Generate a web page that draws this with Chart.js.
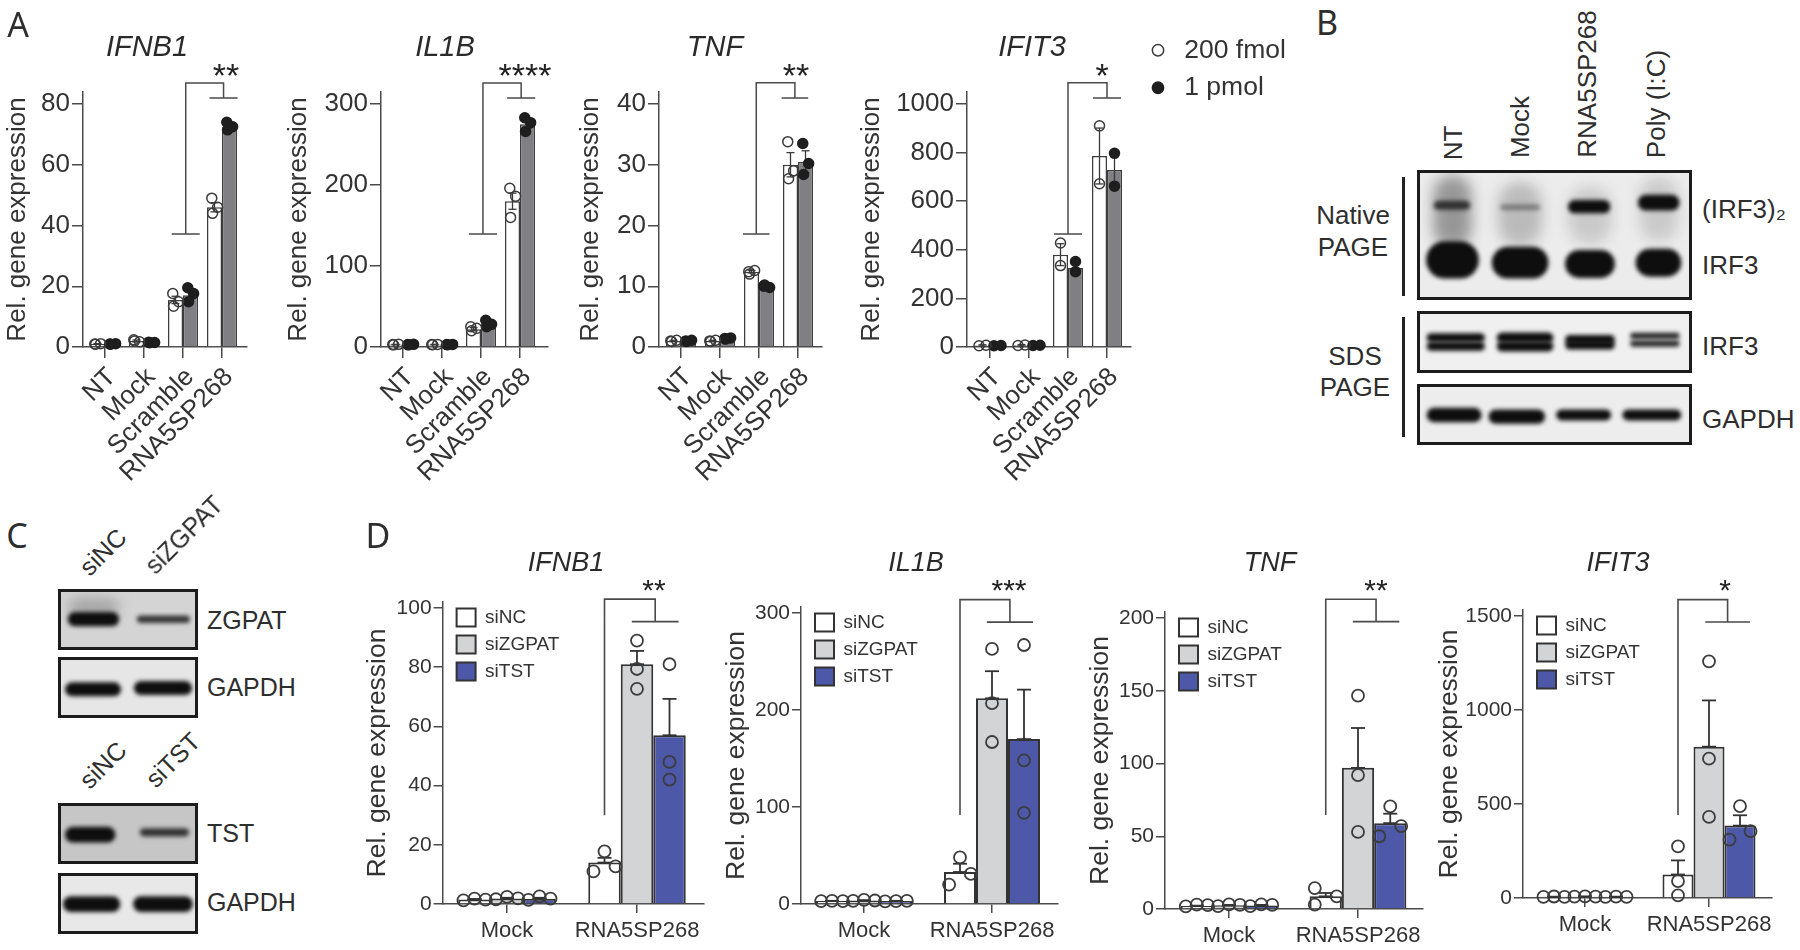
<!DOCTYPE html>
<html>
<head>
<meta charset="utf-8">
<title>Figure</title>
<script src="https://cdn.jsdelivr.net/npm/chart.js@4/dist/chart.umd.min.js"></script>
<style>
  html, body { margin: 0; background: #fff; }
  #page { position: relative; width: 1800px; height: 950px; overflow: hidden; font-family: "Liberation Sans", Arial, sans-serif; color: #2e2e2e; }
  canvas { position: absolute; }
  .lbl { position: absolute; white-space: nowrap; line-height: 1; }
  .rule { position: absolute; background: #222; }
</style>
</head>
<body>
<div id="page"></div>
<script>
// ---- panel A data
const aGroups = ['NT', 'Mock', 'Scramble', 'RNA5SP268'];
const aSeries = ['200 fmol', '1 pmol'];

const aIfnb1Low = [1, 2, 15.5, 46];
const aIfnb1High = [1, 1.5, 17, 72];
const aIfnb1LowSem = [0.1, 0.3, 1.2, 1.5];
const aIfnb1HighSem = [0.1, 0.1, 1.3, 0.8];
const aIfnb1LowPts = [[1, 1.1, 0.9], [2.4, 1.7, 2], [17.6, 14.9, 13.4], [49, 46, 44]];
const aIfnb1HighPts = [[1, 1.1, 0.9], [1.6, 1.5, 1.4], [19.5, 17.6, 14.9], [74, 72.5, 71.5]];
const aIfnb1Bracket = [37.2, 86.9, 82];

const aIl1bLow = [3, 3, 22, 180];
const aIl1bHigh = [3, 3, 27, 275];
const aIl1bLowSem = [0.3, 0.3, 2, 10];
const aIl1bHighSem = [0.3, 0.3, 2, 5];
const aIl1bLowPts = [[3, 3.3, 2.7], [3, 3.2, 2.8], [25, 23, 20], [196, 186, 160]];
const aIl1bHighPts = [[3, 3.3, 2.7], [3, 3.2, 2.8], [33, 28, 25], [283, 277, 266]];
const aIl1bBracket = [139.5, 326, 307.5];

const aTnfLow = [1, 1, 12.4, 30];
const aTnfHigh = [1, 1.4, 10, 30.5];
const aTnfLowSem = [0.1, 0.1, 0.2, 2];
const aTnfHighSem = [0.1, 0.1, 0.1, 1.8];
const aTnfLowPts = [[1, 1.1, 0.9], [1, 1.1, 0.9], [12.4, 12.6, 12], [33.8, 29, 27.7]];
const aTnfHighPts = [[1, 1.1, 0.9], [1.4, 1.5, 1.3], [10, 9.8, 10.2], [33.5, 30.2, 28.4]];
const aTnfBracket = [18.6, 43.5, 41];

const aIfit3Low = [6, 7, 380, 786];
const aIfit3High = [5, 6, 325, 728];
const aIfit3LowSem = [3, 3, 45, 115];
const aIfit3HighSem = [2, 2, 22, 65];
const aIfit3LowPts = [[5, 7], [6, 8], [428, 335], [910, 672]];
const aIfit3HighPts = [[5, 6], [6, 7], [310, 352], [797, 662]];
const aIfit3Bracket = [465, 1087, 1025];

// ---- panel D data
const dGroups = ['Mock', 'RNA5SP268'];
const dSeries = ['siNC', 'siZGPAT', 'siTST'];

const dIfnb1SiNC = [1.5, 14];
const dIfnb1SiZGPAT = [1.9, 81];
const dIfnb1SiTST = [1.8, 57];
const dIfnb1SiNCSem = [0.2, 1.6];
const dIfnb1SiZGPATSem = [0.2, 4.5];
const dIfnb1SiTSTSem = [0.3, 12.3];
const dIfnb1SiNCPts = [[1.2, 1.8, 1.5], [17.8, 12.7, 11]];
const dIfnb1SiZGPATPts = [[1.6, 2.4, 1.9], [89, 79.4, 72.7]];
const dIfnb1SiTSTPts = [[1.4, 2.6, 1.8], [81, 48, 42]];
const dIfnb1SiNCOff = [0, 1, -1];
const dIfnb1SiTSTOff = [0, 0, 0];
const dIfnb1Bracket = [30, 103, 95.4];

const dIl1bSiNC = [3, 33];
const dIl1bSiZGPAT = [3.5, 212];
const dIl1bSiTST = [3, 170];
const dIl1bSiNCSem = [0.3, 8.5];
const dIl1bSiZGPATSem = [0.4, 28];
const dIl1bSiTSTSem = [0.3, 51];
const dIl1bSiNCPts = [[3, 3.3, 3], [48, 31, 20]];
const dIl1bSiZGPATPts = [[3.3, 4.2, 3.6], [263, 207, 167]];
const dIl1bSiTSTPts = [[2.8, 3, 3.2], [267, 148, 94]];
const dIl1bSiNCOff = [0, 1, -1];
const dIl1bSiTSTOff = [0, 0, 0];
const dIl1bBracket = [91.7, 313.8, 290.6];

const dTnfSiNC = [2, 8.7];
const dTnfSiZGPAT = [2.5, 97];
const dTnfSiTST = [2.4, 59];
const dTnfSiNCSem = [0.3, 2.3];
const dTnfSiZGPATSem = [0.3, 27.4];
const dTnfSiTSTSem = [0.4, 6.5];
const dTnfSiNCPts = [[1.8, 3, 2.6], [14.4, 8.7, 3]];
const dTnfSiZGPATPts = [[2, 3.2, 2.8], [146.6, 92, 53]];
const dTnfSiTSTPts = [[2, 3.2, 2.8], [70.5, 57, 50]];
const dTnfSiNCOff = [-1, 1, -1];
const dTnfSiTSTOff = [0, 1, -1];
const dTnfBracket = [64.6, 212.9, 197.5];

const dIfit3SiNC = [6, 125];
const dIfit3SiZGPAT = [7, 805];
const dIfit3SiTST = [6, 385];
const dIfit3SiNCSem = [1, 75];
const dIfit3SiZGPATSem = [1, 246];
const dIfit3SiTSTSem = [1, 55];
const dIfit3SiNCPts = [[6, 8, 6], [275, 90, 14]];
const dIfit3SiZGPATPts = [[7, 9, 7], [1259, 741, 431]];
const dIfit3SiTSTPts = [[6, 7, 6], [489, 356, 310]];
const dIfit3SiNCOff = [0, 0, 0];
const dIfit3SiTSTOff = [0, 1, -1];
const dIfit3Bracket = [441, 1587, 1468];

// ---- blot bands, [lane centre, height centre, width, height, darkness] in % of the box
const nativeBands = [[12.9, 69.2, 19.2, 25.6, 1], [37.5, 71.3, 20.6, 21.8, 1], [62.9, 72.3, 18.1, 19.2, 1], [87.8, 71.3, 16.6, 19.2, 1],
  [12.7, 27.2, 13.3, 6.2, 0.75], [37.5, 28.7, 14.5, 3.8, 0.4], [62.6, 28.2, 15.4, 9.2, 1], [87.9, 25.1, 15.1, 10.8, 1]];
const nativeSmears = [[12.9, 32, 14, 56, 0.38], [37.5, 34, 16, 50, 0.22], [62.9, 35, 16, 45, 0.15], [87.9, 30, 14, 50, 0.15]];
const sdsIrf3Bands = [[14.1, 43, 21.2, 13, 1], [14.1, 57, 21.2, 13, 1], [39.3, 43, 20.6, 15, 1], [39.3, 57, 20.6, 15, 1],
  [62.9, 46, 18, 13, 1], [62.9, 55, 18, 13, 1], [86.5, 40, 18, 9, 0.9], [86.5, 52.5, 18, 9, 0.9]];
const sdsGapdhBands = [[13.5, 50.8, 20, 21, 1], [36.3, 53.5, 20.5, 21, 1], [60.6, 50.8, 20, 16, 1], [85.4, 50.8, 21.4, 16, 1]];
const zgpatBands = [[25.3, 49.5, 36.7, 21, 1], [75.3, 49.5, 37.9, 11, 0.8]];
const zgpatSmears = [[25.3, 30, 36, 30, 0.25]];
const zgpatGapdhBands = [[25, 53, 40, 20.5, 1], [75, 51, 41.5, 20.5, 1]];
const tstBands = [[23, 52, 36, 23, 1], [76, 48, 35, 12, 0.8]];
const tstGapdhBands = [[24, 51, 41, 23, 1], [75, 51, 42.7, 23, 1]];

const FONT = '"Liberation Sans", Arial, sans-serif';
const INK = '#333333';
const AXIS = '#4a4a4a';
const page = document.getElementById('page');

function addCanvas(left, top, w, h) {
  const c = document.createElement('canvas');
  c.width = w;
  c.height = h;
  c.style.left = left + 'px';
  c.style.top = top + 'px';
  c.style.width = w + 'px';
  c.style.height = h + 'px';
  page.appendChild(c);
  return c;
}

function label(text, x, y, size, opts) {
  opts = opts || {};
  const d = document.createElement('div');
  d.className = 'lbl';
  d.textContent = text;
  d.style.left = x + 'px';
  d.style.top = y + 'px';
  d.style.fontSize = size + 'px';
  if (opts.family) d.style.fontFamily = opts.family;
  d.style.transform = 'translate(' + (opts.left ? '0' : '-50%') + ',-50%) rotate(' + (opts.rot || 0) + 'deg)';
  page.appendChild(d);
}

function rule(x, y, w, h) {
  const d = document.createElement('div');
  d.className = 'rule';
  d.style.cssText = 'left:' + x + 'px;top:' + y + 'px;width:' + w + 'px;height:' + h + 'px';
  page.appendChild(d);
}

// moves the title, legend and y title after the layout is done, stars after the marks
const placePlugin = {
  id: 'place',
  afterLayout(chart) {
    const p = chart.options.plugins.place;
    const t = chart.titleBlock;
    const dx = p.titleX - (t.left + t.right) / 2;
    const dy = p.titleY - (t.top + t.bottom) / 2;
    t.left += dx; t.right += dx; t.top += dy; t.bottom += dy;
    const l = chart.legend;
    if (l && l.options.display) {
      l.left += p.legendDx; l.right += p.legendDx; l.top += p.legendDy; l.bottom += p.legendDy;
    }
    chart.scales.y.top -= p.yTitleRaise * 2;
  },
  afterDatasetsDraw(chart) {
    const p = chart.options.plugins.place;
    const ctx = chart.ctx;
    ctx.save();
    ctx.font = p.starSize + 'px ' + FONT;
    ctx.fillStyle = '#222';
    ctx.textAlign = 'center';
    ctx.textBaseline = 'alphabetic';
    ctx.fillText(p.stars, p.starX, p.starY + p.starSize * 0.57);
    ctx.restore();
  }
};

function barChart(p) {
  const canvasLeft = Math.round(p.yTitleX - p.yTitleSize * 0.6);
  const canvasTop = p.plotTop - 100;
  const step = (p.tick1 - p.tick0);
  const width = p.plotRight - canvasLeft + p.padRight;
  const height = p.plotBottom - canvasTop + p.xHeight;
  const canvas = addCanvas(canvasLeft, canvasTop, width, height);
  const shift = i => p.barShift * (i - (p.series.length - 1) / 2);
  const datasets = [];

  p.series.forEach((name, i) => {
    datasets.push({
      type: 'bar',
      label: p.legendOnBars ? name : '',
      order: 3,
      data: p.means[i].map((v, g) => ({ x: g, y: v })),
      backgroundColor: p.fills[i],
      borderColor: p.barEdge,
      borderWidth: p.barEdgeWidth,
      categoryPercentage: p.groupFrac,
      barPercentage: 1
    });
    // whiskers: one line with a dash at each end, broken between groups
    const whisker = [];
    p.means[i].forEach((v, g) => {
      const x = g + shift(i);
      whisker.push({ x: x, y: p.bothWays ? v - p.sems[i][g] : v }, { x: x, y: v + p.sems[i][g] }, { x: NaN, y: NaN });
    });
    datasets.push({
      type: 'scatter',
      order: 2,
      data: whisker,
      showLine: true,
      spanGaps: false,
      clip: false,
      borderColor: p.whiskerColor,
      borderWidth: p.whiskerWidth,
      pointStyle: 'line',
      pointRotation: 0,
      pointRadius: p.capRadius,
      pointBorderColor: p.whiskerColor,
      pointBorderWidth: p.whiskerWidth
    });
    const pts = [];
    p.pts[i].forEach((rep, g) => {
      const off = p.offsets(i, g, rep.length);
      rep.forEach((v, k) => pts.push({ x: g + shift(i) + off[k], y: v }));
    });
    datasets.push({
      type: 'scatter',
      label: p.legendOnBars ? '' : name,
      order: 1,
      data: pts,
      clip: false,
      pointStyle: 'circle',
      pointRadius: p.dotRadius,
      pointBackgroundColor: p.dotFills[i],
      pointBorderColor: p.dotEdges[i],
      pointBorderWidth: p.dotEdgeWidth
    });
  });

  // significance bracket, in data units of the y axis
  const [low, top, cross] = p.bracket;
  datasets.push({
    type: 'scatter',
    order: 0,
    clip: false,
    showLine: true,
    pointRadius: 0,
    borderColor: AXIS,
    borderWidth: p.bracketWidth,
    data: [
      { x: p.brL - p.lowHalf, y: low }, { x: p.brL + p.lowHalf, y: low }, { x: p.brL, y: low },
      { x: p.brL, y: top }, { x: p.brR, y: top }, { x: p.brR, y: cross },
      { x: p.brR - p.crossHalf, y: cross }, { x: p.brR + p.crossHalf, y: cross }
    ]
  });

  return new Chart(canvas, {
    type: 'bar',
    data: { datasets: datasets },
    plugins: [placePlugin],
    options: {
      responsive: false,
      animation: false,
      events: [],
      layout: { padding: { left: 0, right: p.padRight, top: 100 - p.titleSize, bottom: 0 } },
      plugins: {
        tooltip: { enabled: false },
        title: {
          display: true,
          text: p.title,
          color: '#2a2a2a',
          padding: 0,
          font: { family: FONT, size: p.titleSize, style: 'italic', weight: 'normal', lineHeight: 1 }
        },
        legend: {
          display: p.showLegend,
          position: 'chartArea',
          align: 'start',
          labels: {
            filter: item => !!item.text,
            color: INK,
            font: { family: FONT, size: p.legendSize },
            padding: p.legendPad,
            boxWidth: p.legendBoxW,
            boxHeight: p.legendBoxH,
            usePointStyle: !p.legendOnBars
          }
        },
        place: {
          titleX: p.titlePos[0] - canvasLeft,
          titleY: p.titlePos[1] - canvasTop,
          legendDx: p.legendDx,
          legendDy: p.legendDy,
          yTitleRaise: p.yTitleRaise,
          stars: p.stars,
          starSize: p.starSize,
          starX: p.starPos[0] - canvasLeft,
          starY: p.starPos[1] - canvasTop
        }
      },
      scales: {
        x: {
          type: 'linear',
          offset: false,
          min: (p.plotLeft - p.tick0) / step,
          max: (p.plotRight - p.tick0) / step,
          afterBuildTicks: s => { s.ticks = p.groups.map((g, i) => ({ value: i })); },
          afterFit: s => { s.height = p.xHeight; },
          ticks: {
            autoSkip: false,
            minRotation: p.xRot,
            maxRotation: p.xRot,
            padding: p.xPad,
            labelOffset: p.xLabelShift,
            color: INK,
            font: { family: FONT, size: p.xFont },
            callback: v => p.groups[v]
          },
          grid: { offset: false, drawOnChartArea: false, tickLength: p.tickLen, color: AXIS, lineWidth: p.axisWidth },
          border: { color: AXIS, width: p.axisWidth }
        },
        y: {
          min: 0,
          max: p.yMax,
          afterFit: s => { s.width = p.plotLeft - canvasLeft; },
          title: {
            display: true,
            text: 'Rel. gene expression',
            color: INK,
            padding: 0,
            font: { family: FONT, size: p.yTitleSize }
          },
          ticks: { stepSize: p.yStep, padding: 2, color: INK, font: { family: FONT, size: p.yFont }, callback: v => String(v) },
          grid: { drawOnChartArea: false, tickLength: p.tickLen, color: AXIS, lineWidth: p.axisWidth },
          border: { color: AXIS, width: p.axisWidth }
        }
      }
    }
  });
}

function panelA(o) {
  return barChart(Object.assign({
    groups: aGroups, series: aSeries,
    plotTop: 104, plotBottom: 347, xHeight: 150,
    barShift: 15 / 39, groupFrac: 30 / 39,
    fills: ['#ffffff', '#808084'], barEdge: '#3d3d3d', barEdgeWidth: 1.5,
    bothWays: true, whiskerColor: '#3a3a3a', whiskerWidth: 1.3, capRadius: 4,
    dotRadius: 5, dotFills: ['rgba(0,0,0,0)', '#1e1e1e'], dotEdges: ['#3a3a3a', '#1e1e1e'], dotEdgeWidth: 1.5,
    offsets: (i, g, n) => n === 3 ? [-0.07, 0.08, -0.05] : (g < 2 ? [-0.09, 0.09] : [0, 0]),
    bracketWidth: 1.5, lowHalf: 0.36, crossHalf: 0.36,
    titleSize: 29, xRot: 45, xPad: 4, xLabelShift: 7, xFont: 26, yFont: 26, yTitleSize: 26, yTitleRaise: 6,
    tickLen: 11, axisWidth: 1.5,
    legendOnBars: false, showLegend: false, legendSize: 26.5, legendPad: 11, legendBoxW: 26, legendBoxH: 8,
    legendDx: 0, legendDy: 0, padRight: 40,
    stars: '**', starSize: 34
  }, o));
}

function panelD(o) {
  const spread = 0.085;
  return barChart(Object.assign({
    groups: dGroups, series: dSeries,
    xHeight: 42,
    barShift: 0.25, groupFrac: 0.75,
    fills: ['#ffffff', '#d3d4d6', '#4e58a8'], barEdge: '#333333', barEdgeWidth: 2,
    bothWays: false, whiskerColor: '#333333', whiskerWidth: 1.8, capRadius: 7,
    dotRadius: 6, dotFills: ['rgba(0,0,0,0)', 'rgba(0,0,0,0)', 'rgba(0,0,0,0)'],
    dotEdges: ['#3c3c3c', '#3c3c3c', '#3c3c3c'], dotEdgeWidth: 1.8,
    offsets: (i, g) => {
      if (g === 0) return [-spread, 0, spread];
      const off = i === 0 ? o.siNCOff : i === 2 ? o.siTSTOff : [0, 0, 0];
      return off.map(k => k * spread);
    },
    bracketWidth: 1.6, lowHalf: 0, crossHalf: 0.18, brL: 0.75,
    titleSize: 27, xRot: 0, xPad: 5, xLabelShift: 0, xFont: 22, yFont: 21, yTitleSize: 26.5, yTitleRaise: 3,
    tickLen: 9, axisWidth: 1.5,
    legendOnBars: true, showLegend: true, legendSize: 19, legendPad: 8, legendBoxW: 19, legendBoxH: 18,
    legendDx: 6, legendDy: 92, padRight: 30,
    starSize: 30
  }, o));
}

panelA({
  title: 'IFNB1', titlePos: [147, 48], yTitleX: 18,
  plotLeft: 83, plotRight: 247, tick0: 105, tick1: 144, yMax: 80, yStep: 20,
  means: [aIfnb1Low, aIfnb1High], sems: [aIfnb1LowSem, aIfnb1HighSem], pts: [aIfnb1LowPts, aIfnb1HighPts],
  bracket: aIfnb1Bracket, brL: 2.07, brR: 3.04, starPos: [226, 68]
});
panelA({
  title: 'IL1B', titlePos: [445, 48], yTitleX: 299,
  plotLeft: 381, plotRight: 548, tick0: 403, tick1: 442, yMax: 300, yStep: 100,
  means: [aIl1bLow, aIl1bHigh], sems: [aIl1bLowSem, aIl1bHighSem], pts: [aIl1bLowPts, aIl1bHighPts],
  bracket: aIl1bBracket, brL: 2.05, brR: 3.03, stars: '****', starPos: [525, 68]
});
panelA({
  title: 'TNF', titlePos: [715, 48], yTitleX: 591,
  plotLeft: 659, plotRight: 822, tick0: 681, tick1: 720, yMax: 40, yStep: 10,
  means: [aTnfLow, aTnfHigh], sems: [aTnfLowSem, aTnfHighSem], pts: [aTnfLowPts, aTnfHighPts],
  bracket: aTnfBracket, brL: 1.93, brR: 2.92, lowHalf: 0.34, crossHalf: 0.34, starPos: [796, 68]
});
panelA({
  title: 'IFIT3', titlePos: [1032, 48], yTitleX: 872,
  plotLeft: 967, plotRight: 1131, tick0: 990, tick1: 1029, yMax: 1000, yStep: 200,
  means: [aIfit3Low, aIfit3High], sems: [aIfit3LowSem, aIfit3HighSem], pts: [aIfit3LowPts, aIfit3HighPts],
  bracket: aIfit3Bracket, brL: 2, brR: 3, lowHalf: 0.36, crossHalf: 0.36, stars: '*', starPos: [1102, 68],
  showLegend: true, padRight: 180, legendDx: 167, legendDy: 22
});

panelD({
  title: 'IFNB1', titlePos: [566, 563], yTitleX: 378,
  plotLeft: 442.6, plotRight: 704, plotTop: 608, plotBottom: 904, tick0: 507, tick1: 637, yMax: 100, yStep: 20,
  means: [dIfnb1SiNC, dIfnb1SiZGPAT, dIfnb1SiTST], sems: [dIfnb1SiNCSem, dIfnb1SiZGPATSem, dIfnb1SiTSTSem],
  pts: [dIfnb1SiNCPts, dIfnb1SiZGPATPts, dIfnb1SiTSTPts], siNCOff: dIfnb1SiNCOff, siTSTOff: dIfnb1SiTSTOff,
  bracket: dIfnb1Bracket, brR: 1.14, stars: '**', starPos: [654, 583]
});
panelD({
  title: 'IL1B', titlePos: [916, 563], yTitleX: 737,
  plotLeft: 801, plotRight: 1058, plotTop: 613, plotBottom: 904, tick0: 864, tick1: 992, yMax: 300, yStep: 100,
  means: [dIl1bSiNC, dIl1bSiZGPAT, dIl1bSiTST], sems: [dIl1bSiNCSem, dIl1bSiZGPATSem, dIl1bSiTSTSem],
  pts: [dIl1bSiNCPts, dIl1bSiZGPATPts, dIl1bSiTSTPts], siNCOff: dIl1bSiNCOff, siTSTOff: dIl1bSiTSTOff,
  bracket: dIl1bBracket, brR: 1.14, stars: '***', starPos: [1009, 583]
});
panelD({
  title: 'TNF', titlePos: [1270, 563], yTitleX: 1101,
  plotLeft: 1165, plotRight: 1423, plotTop: 618, plotBottom: 909, tick0: 1229, tick1: 1358, yMax: 200, yStep: 50,
  means: [dTnfSiNC, dTnfSiZGPAT, dTnfSiTST], sems: [dTnfSiNCSem, dTnfSiZGPATSem, dTnfSiTSTSem],
  pts: [dTnfSiNCPts, dTnfSiZGPATPts, dTnfSiTSTPts], siNCOff: dTnfSiNCOff, siTSTOff: dTnfSiTSTOff,
  bracket: dTnfBracket, brR: 1.14, stars: '**', starPos: [1376, 583]
});
panelD({
  title: 'IFIT3', titlePos: [1618, 563], yTitleX: 1450,
  plotLeft: 1523, plotRight: 1772, plotTop: 616, plotBottom: 898, tick0: 1585, tick1: 1709, yMax: 1500, yStep: 500,
  means: [dIfit3SiNC, dIfit3SiZGPAT, dIfit3SiTST], sems: [dIfit3SiNCSem, dIfit3SiZGPATSem, dIfit3SiTSTSem],
  pts: [dIfit3SiNCPts, dIfit3SiZGPATPts, dIfit3SiTSTPts], siNCOff: dIfit3SiNCOff, siTSTOff: dIfit3SiTSTOff,
  bracket: dIfit3Bracket, brR: 1.15, stars: '*', starPos: [1725, 583]
});

// ---- blots: each box is a small chart with 0-100 hidden axes, bands go through its scales
const bandsPlugin = {
  id: 'bands',
  beforeDatasetsDraw(chart) {
    const o = chart.options.plugins.bands;
    const { ctx, scales: { x, y }, width, height } = chart;
    ctx.save();
    ctx.fillStyle = o.bg;
    ctx.fillRect(0, 0, width, height);
    const paint = (list, blur, grow) => {
      ctx.filter = 'blur(' + blur + 'px)';
      list.forEach(([cx, cy, w, h, dark]) => {
        const x0 = x.getPixelForValue(cx - w / 2);
        const x1 = x.getPixelForValue(cx + w / 2);
        const y0 = y.getPixelForValue(cy - h * grow / 2);
        const y1 = y.getPixelForValue(cy + h * grow / 2);
        ctx.fillStyle = 'rgba(14,14,14,' + dark + ')';
        ctx.beginPath();
        ctx.roundRect(x0, y0, x1 - x0, y1 - y0, Math.min((y1 - y0) / 2, (x1 - x0) / 2));
        ctx.fill();
      });
    };
    paint(o.smears, 7, 1);
    // the blur eats the edges of a band, so it is drawn a little taller
    paint(o.bands, 2.2, 1.12);
    ctx.filter = 'none';
    ctx.strokeStyle = '#1c1c1c';
    ctx.lineWidth = 3;
    ctx.strokeRect(1.5, 1.5, width - 3, height - 3);
    ctx.restore();
  }
};

function blot(left, top, right, bottom, bands, smears, bg) {
  const canvas = addCanvas(left, top, right - left, bottom - top);
  const hidden = { type: 'linear', display: false, min: 0, max: 100 };
  return new Chart(canvas, {
    type: 'scatter',
    data: { datasets: [] },
    plugins: [bandsPlugin],
    options: {
      responsive: false,
      animation: false,
      events: [],
      plugins: { legend: { display: false }, tooltip: { enabled: false }, bands: { bands: bands, smears: smears, bg: bg } },
      scales: { x: hidden, y: Object.assign({}, hidden, { reverse: true }) }
    }
  });
}

blot(1417, 170, 1692, 300, nativeBands, nativeSmears, '#ececec');
blot(1417, 311, 1692, 373, sdsIrf3Bands, [], '#f0f0f0');
blot(1417, 384, 1692, 445, sdsGapdhBands, [], '#ededed');
blot(58, 589, 198, 650, zgpatBands, zgpatSmears, '#d4d4d4');
blot(58, 657, 198, 718, zgpatGapdhBands, [], '#e6e6e6');
blot(58, 803, 198, 864, tstBands, [], '#c6c6c6');
blot(58, 873, 198, 934, tstGapdhBands, [], '#e8e8e8');

// ---- panel letters and blot labels
const LETTER = '"Noto Sans", sans-serif';
label('A', 18, 24, 34, { family: LETTER });
label('B', 1327, 22, 34, { family: LETTER });
label('C', 17, 535, 34, { family: LETTER });
label('D', 378, 535, 34, { family: LETTER });

label('NT', 1453, 143, 26, { rot: -90 });
label('Mock', 1520, 127, 26, { rot: -90 });
label('RNA5SP268', 1587, 84, 26, { rot: -90 });
label('Poly (I:C)', 1656, 104, 26, { rot: -90 });
label('Native', 1353, 215, 26);
label('PAGE', 1353, 247, 26);
label('SDS', 1355, 356, 26);
label('PAGE', 1355, 387, 26);
label('(IRF3)\u2082', 1702, 209, 26, { left: true });
label('IRF3', 1702, 265, 26, { left: true });
label('IRF3', 1702, 346, 26, { left: true });
label('GAPDH', 1702, 419, 26, { left: true });
rule(1402, 177, 3, 119);
rule(1402, 317, 3, 120);

label('siNC', 103, 552, 25, { rot: -45 });
label('siZGPAT', 184, 535, 25, { rot: -45 });
label('ZGPAT', 207, 620, 25, { left: true });
label('GAPDH', 207, 687, 25, { left: true });
label('siNC', 103, 765, 25, { rot: -45 });
label('siTST', 173, 760, 25, { rot: -45 });
label('TST', 207, 833, 25, { left: true });
label('GAPDH', 207, 902, 25, { left: true });
</script>
</body>
</html>
